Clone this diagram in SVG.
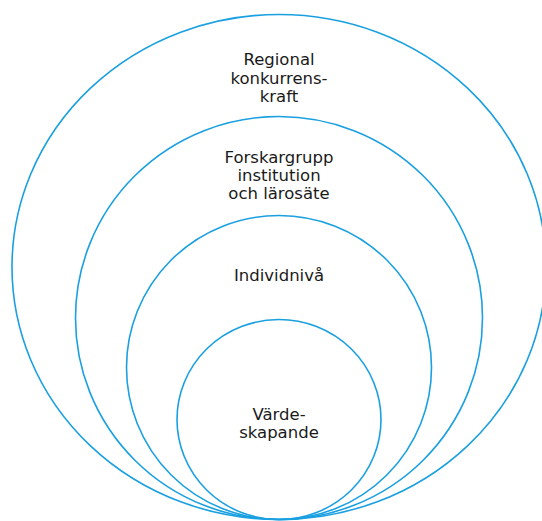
<svg xmlns="http://www.w3.org/2000/svg" width="542" height="521" viewBox="0 0 542 521">
<style>
.ring{fill:none;stroke:#1aa0e0;stroke-width:1.6}
.lbl{font-family:"DejaVu Sans",Verdana,sans-serif;font-size:16.5px;fill:#1a1a1a;text-anchor:middle}
</style>
<rect width="542" height="521" fill="#ffffff"/>
<g id="outer">
<ellipse class="ring" cx="279" cy="267" rx="267" ry="252.5"/>
<text class="lbl" x="279" y="65">Regional</text>
<text class="lbl" x="279" y="83.5">konkurrens-</text>
<text class="lbl" x="279" y="102">kraft</text>
</g>
<g id="second">
<ellipse class="ring" cx="279" cy="318" rx="203.5" ry="201.5"/>
<text class="lbl" x="279" y="163">Forskargrupp</text>
<text class="lbl" x="279" y="181">institution</text>
<text class="lbl" x="279" y="199">och lärosäte</text>
</g>
<g id="third">
<ellipse class="ring" cx="279" cy="367.5" rx="152.5" ry="152"/>
<text class="lbl" x="279" y="281">Individnivå</text>
</g>
<g id="inner">
<ellipse class="ring" cx="279" cy="419.5" rx="102" ry="100"/>
<text class="lbl" x="279" y="420">Värde-</text>
<text class="lbl" x="279" y="438">skapande</text>
</g>
<g id="connectors"/>
</svg>
